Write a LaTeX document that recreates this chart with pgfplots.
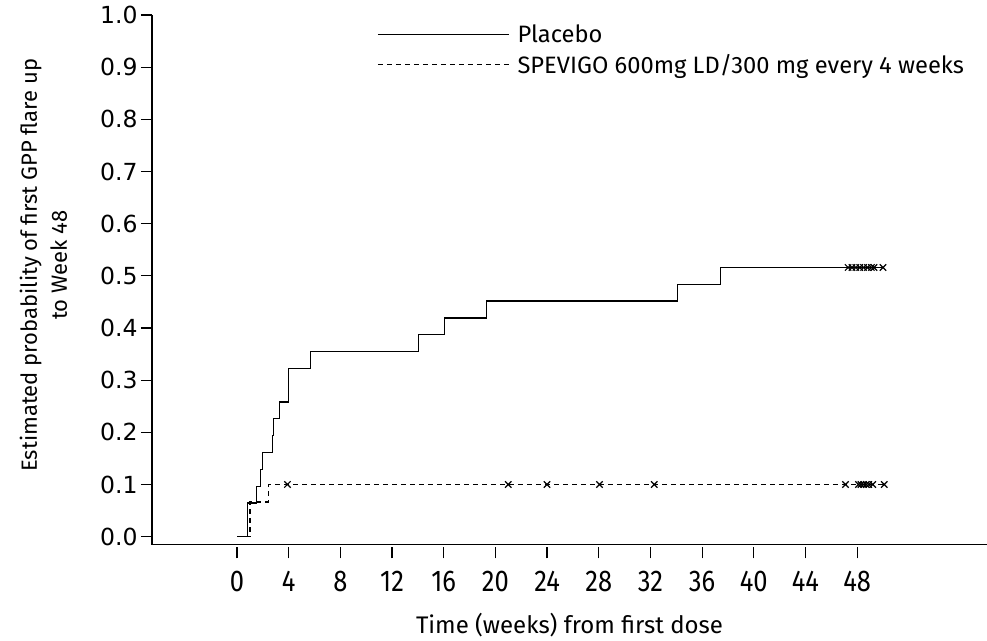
\documentclass[border=0pt]{standalone}
\usepackage{fontspec}
\setmainfont{Fira Sans}
\newfontfamily\condfont[FakeStretch=0.85]{Fira Sans}
\newfontfamily\numfont{DejaVu Sans}
\usepackage{pgfplots}
\pgfplotsset{compat=1.18}

\begin{document}
\begin{tikzpicture}
\useasboundingbox (-152pt,-92.7pt) rectangle (835pt,547.3pt);
\begin{axis}[
	scale only axis,
	width=835pt,
	height=532.3pt,
	xmin=-6.58, xmax=58.05,
	ymin=-0.0204, ymax=1.0,
	axis lines*=left,
	axis line style={draw=none},
	tick align=outside,
	major tick length=11pt,
	tick style={black, line width=1.2pt},
	xtick={0,4,...,48},
	ytick={0,0.1,...,1.0},
	y tick label style={font=\numfont\fontsize{23.5}{26}\selectfont,
		/pgf/number format/fixed,
		/pgf/number format/fixed zerofill,
		/pgf/number format/precision=1,
		/pgf/number format/assume math mode=true},
	x tick label style={font=\condfont\fontsize{30}{34}\selectfont,
		/pgf/number format/assume math mode=true, yshift=-9pt},
	xlabel={Time (weeks) from first dose},
	xlabel style={font=\fontsize{24}{28}\selectfont,
		at={(axis description cs:0.5,-0.147)}, anchor=center},
	ylabel={Estimated probability of first GPP flare up\\to Week 48},
	ylabel style={font=\fontsize{22}{30}\selectfont, align=center,
		at={(axis description cs:-0.13,0.53)}, anchor=center},
	legend style={draw=none, fill=none, at={(axis description cs:0.2695,0.985)},
		anchor=north west, inner sep=0pt, row sep=6pt,
		font=\fontsize{23.7}{27}\selectfont,
		/tikz/every odd column/.append style={column sep=6pt}},
	legend cell align=left,
	legend image code/.code={\draw[#1, mark=none] (0pt,0pt) -- (131pt,0pt);},
	clip=false,
]
% Placebo
\addplot[const plot, black, line width=1.3pt] coordinates {
(0,0) (0.83,0.0645) (1.53,0.0968) (1.84,0.129) (1.99,0.161) (2.74,0.194)
(2.82,0.226) (3.28,0.258) (4.0,0.323) (5.7,0.355) (14.03,0.387) (16.05,0.419)
(19.33,0.452) (34.1,0.484) (37.4,0.516) (50.0,0.516)};
\addlegendentry{Placebo}
% SPEVIGO
\addplot[const plot, black, line width=1.3pt, dash pattern=on 5pt off 4pt] coordinates {
(0,0) (1.0,0.0667) (2.43,0.1) (50.1,0.1)};
\addlegendentry{SPEVIGO 600mg LD/300 mg every 4 weeks}
% censored
\addplot[only marks, mark=x, mark size=4.5pt, black, line width=1.2pt, forget plot] coordinates {
(47.3,0.516) (47.6,0.516) (47.9,0.516) (48.2,0.516) (48.5,0.516) (48.8,0.516)
(49.1,0.516) (49.3,0.516) (50.0,0.516)};
\addplot[only marks, mark=x, mark size=4.5pt, black, line width=1.2pt, forget plot] coordinates {
(3.9,0.1) (21.0,0.1) (24.0,0.1) (28.05,0.1) (32.3,0.1) (47.1,0.1) (48.1,0.1)
(48.3,0.1) (48.5,0.1) (48.7,0.1) (48.9,0.1) (49.2,0.1) (50.1,0.1)};
\draw[black, line width=1.3pt] (rel axis cs:0,1) -- (rel axis cs:0,0.0056) -- (rel axis cs:1,0.0056);
\end{axis}
\end{tikzpicture}
\end{document}
